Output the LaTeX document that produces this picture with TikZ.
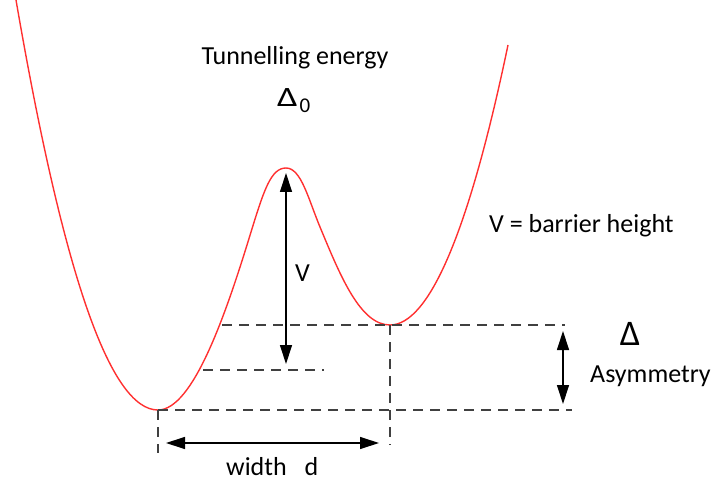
\documentclass[tikz,border=0pt]{standalone}
\usepackage{fontspec}
\setmainfont{Carlito}
\usepackage{xcolor}
\definecolor{potred}{HTML}{FF3030}
\definecolor{guidegray}{HTML}{404040}
\usetikzlibrary{arrows.meta}
\tikzset{
  pot/.style={draw=potred, line width=1.4pt},
  guide/.style={draw=guidegray, line width=1.1pt, dash pattern=on 10pt off 7pt},
  dimarr/.style={{Triangle[length=19pt,width=12pt]}-{Triangle[length=19pt,width=12pt]},
                 line width=1.2pt, draw=black},
  lbl/.style={inner sep=0pt, font=\fontsize{26}{30}\selectfont, text=black},
}

\begin{document}
\begin{tikzpicture}[x=1pt, y=-1pt]
  \useasboundingbox (0,0) rectangle (716,484);

  % Key points of the double well
  \coordinate (ltop)  at (16,0);
  \coordinate (lmin)  at (158,410);
  \coordinate (peak)  at (286,168);
  \coordinate (rmin)  at (390,325);
  \coordinate (rtop)  at (508,45);

  % Potential curve
  \draw[pot] (ltop) .. controls (63,273) and (110,410) .. (lmin)
    .. controls (193,410) and (226,314) .. (251,232)
    .. controls (264,190) and (271,168) .. (peak)
    .. controls (301,168) and (308,198) .. (320,227)
    .. controls (340,275) and (360,325) .. (rmin)
    .. controls (429,325) and (469,232) .. (rtop);

  % Guide lines
  \coordinate (g1a) at (222,325);
  \coordinate (g1b) at (565,325);
  \coordinate (g2a) at (203,370);
  \coordinate (g2b) at (324,370);
  \coordinate (g3b) at (572,410);
  \coordinate (g4b) at (158,453);
  \coordinate (g5b) at (390,445);
  \draw[guide] (g1a) -- (g1b);
  \draw[guide] (g2a) -- (g2b);
  \draw[guide] (lmin) -- (g3b);
  \draw[guide] (lmin) -- (g4b);
  \draw[guide] (rmin) -- (g5b);

  % Dimension arrows
  \coordinate (vtop) at (286,173);
  \coordinate (vbot) at (286,364);
  \coordinate (wl)   at (166,443);
  \coordinate (wr)   at (379,443);
  \coordinate (atop) at (563,331);
  \coordinate (abot) at (563,404);
  \draw[dimarr] (vtop) -- (vbot);
  \draw[dimarr] (wl) -- (wr);
  \draw[dimarr] (atop) -- (abot);

  % Labels
  \node[lbl, anchor=base] (tun) at (295,65) {Tunnelling energy};
  \node[lbl, anchor=base west] (delta0) at (277,107)
    {\fontsize{28}{28}\selectfont\scalebox{1.3}[1]{Δ}\kern2pt\raisebox{-6pt}{\fontsize{21}{21}\selectfont 0}};
  \node[lbl, anchor=base west] (vlab) at (295,282) {V};
  \node[lbl, anchor=base west] (vdef) at (489,233) {V = barrier height};
  \node[lbl, anchor=base] (delta) at (630,345) {\fontsize{36}{36}\selectfont Δ};
  \node[lbl, anchor=base west] (asym) at (590,382) {Asymmetry};
  \node[lbl, anchor=base west] (wlab) at (226,475) {width\hspace{18pt}d};
\end{tikzpicture}
\end{document}
